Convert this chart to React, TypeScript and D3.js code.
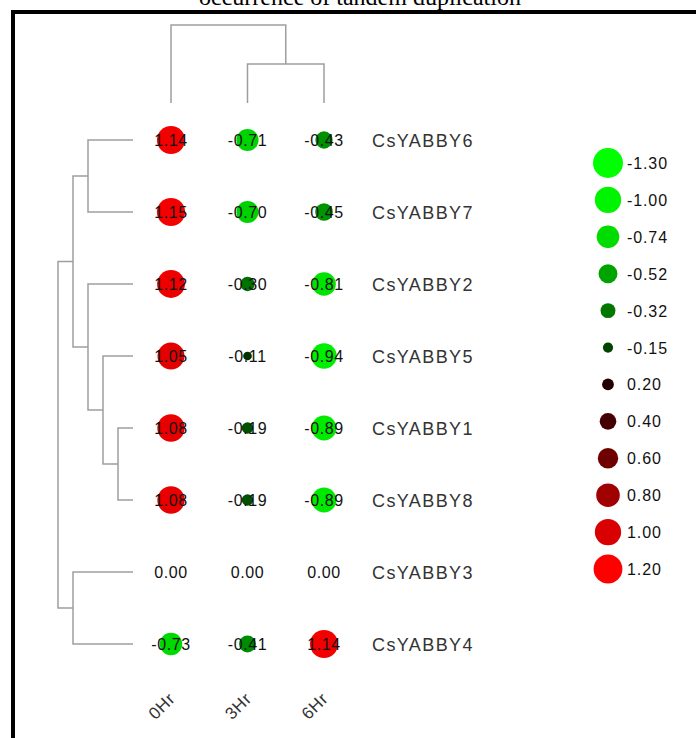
import React, { useRef, useEffect } from 'react';
import { select, scaleLinear, scalePoint, scaleSqrt } from 'd3';

const title = 'occurrence of tandem duplication';

const genes = ['CsYABBY6', 'CsYABBY7', 'CsYABBY2', 'CsYABBY5', 'CsYABBY1', 'CsYABBY8', 'CsYABBY3', 'CsYABBY4'];
const times = ['0Hr', '3Hr', '6Hr'];

const hr0 = [1.14, 1.15, 1.12, 1.05, 1.08, 1.08, 0.0, -0.73];
const hr3 = [-0.71, -0.70, -0.30, -0.11, -0.19, -0.19, 0.0, -0.41];
const hr6 = [-0.43, -0.45, -0.81, -0.94, -0.89, -0.89, 0.0, 1.14];

// linkage: [child a, child b, height]; leaves are 0..n-1, merges are n, n+1, ...
const rowLinkage = [
  [4, 5, 1],
  [3, 8, 2],
  [0, 1, 3],
  [2, 9, 3],
  [10, 11, 4],
  [6, 7, 4],
  [12, 13, 5],
];
const colLinkage = [
  [1, 2, 1],
  [0, 3, 2],
];

const legendValues = [-1.3, -1.0, -0.74, -0.52, -0.32, -0.15, 0.2, 0.4, 0.6, 0.8, 1.0, 1.2];

const W = 696;
const H = 738;
const sans = '"Liberation Sans", Arial, sans-serif';

const App = () => {
  const svgRef = useRef(null);

  useEffect(() => {
    const svg = select(svgRef.current);
    svg.selectAll('*').remove();

    const rowY = scalePoint().domain(genes).range([140, 644]);
    const colX = scalePoint().domain(times).range([171, 324]);
    const rowHeightX = scaleLinear().domain([0, 5]).range([133, 58]);
    const colHeightY = scaleLinear().domain([0, 2]).range([103, 25]);
    const radius = scaleSqrt().domain([0, 1.3]).range([0, 15]);
    const color = scaleLinear()
      .domain([-1.3, -1.0, -0.74, -0.52, -0.32, -0.15, 0, 0.2, 0.4, 0.6, 0.8, 1.0, 1.2])
      .range(['#00ff00', '#00f400', '#00dc00', '#00a400', '#007800', '#004400', '#000000',
        '#220000', '#440000', '#6e0000', '#a00000', '#d80000', '#ff0000'])
      .clamp(true);

    // title (mostly cut off above the frame, as in the source figure)
    svg.append('text')
      .attr('x', 360).attr('y', 5)
      .attr('text-anchor', 'middle')
      .style('font-family', '"Liberation Serif", "Times New Roman", serif')
      .style('font-size', '24px')
      .text(title);

    // frame
    svg.append('rect')
      .attr('x', 13).attr('y', 12)
      .attr('width', W + 20).attr('height', H + 20)
      .attr('fill', 'none')
      .attr('stroke', '#000')
      .attr('stroke-width', 4);

    // row dendrogram
    const rowNodes = genes.map(g => ({ pos: rowY(g), h: 0 }));
    rowLinkage.forEach(([a, b, h]) => {
      const na = rowNodes[a];
      const nb = rowNodes[b];
      const xm = rowHeightX(h);
      svg.append('path')
        .attr('d', `M${rowHeightX(na.h)},${na.pos}H${xm}V${nb.pos}H${rowHeightX(nb.h)}`)
        .attr('fill', 'none')
        .attr('stroke', '#9e9e9e')
        .attr('stroke-width', 1.5);
      rowNodes.push({ pos: (na.pos + nb.pos) / 2, h });
    });

    // column dendrogram
    const colNodes = times.map(t => ({ pos: colX(t), h: 0 }));
    colLinkage.forEach(([a, b, h]) => {
      const na = colNodes[a];
      const nb = colNodes[b];
      const ym = colHeightY(h);
      svg.append('path')
        .attr('d', `M${na.pos},${colHeightY(na.h)}V${ym}H${nb.pos}V${colHeightY(nb.h)}`)
        .attr('fill', 'none')
        .attr('stroke', '#9e9e9e')
        .attr('stroke-width', 1.5);
      colNodes.push({ pos: (na.pos + nb.pos) / 2, h });
    });

    // bubbles
    const columns = [hr0, hr3, hr6];
    const cells = [];
    columns.forEach((vals, ci) => {
      vals.forEach((v, ri) => cells.push({ time: times[ci], gene: genes[ri], v }));
    });

    const cellG = svg.append('g');
    cellG.selectAll('circle')
      .data(cells.filter(d => d.v !== 0))
      .enter()
      .append('circle')
      .attr('cx', d => colX(d.time))
      .attr('cy', d => rowY(d.gene))
      .attr('r', d => radius(Math.abs(d.v)))
      .attr('fill', d => color(d.v));

    cellG.selectAll('text')
      .data(cells)
      .enter()
      .append('text')
      .attr('x', d => colX(d.time))
      .attr('y', d => rowY(d.gene) + 6)
      .attr('text-anchor', 'middle')
      .style('font-family', sans)
      .style('font-size', '16px')
      .style('letter-spacing', '0.6px')
      .attr('fill', '#111')
      .text(d => d.v.toFixed(2));

    // row labels
    svg.append('g').selectAll('text')
      .data(genes)
      .enter()
      .append('text')
      .attr('x', 372)
      .attr('y', d => rowY(d) + 6.5)
      .style('font-family', sans)
      .style('font-size', '18px')
      .style('letter-spacing', '1.4px')
      .attr('fill', '#333')
      .text(d => d);

    // column labels
    svg.append('g').selectAll('text')
      .data(times)
      .enter()
      .append('text')
      .attr('transform', d => `translate(${colX(d) + 5},${700}) rotate(-45)`)
      .attr('text-anchor', 'end')
      .style('font-family', sans)
      .style('font-size', '17px')
      .style('letter-spacing', '0.5px')
      .attr('fill', '#333')
      .text(d => d);

    // legend
    const legendY = scalePoint().domain(legendValues.map(String)).range([163, 569]);
    const legend = svg.append('g');
    legend.selectAll('circle')
      .data(legendValues)
      .enter()
      .append('circle')
      .attr('cx', 608)
      .attr('cy', d => legendY(String(d)))
      .attr('r', d => radius(Math.abs(d)))
      .attr('fill', d => color(d));

    legend.selectAll('text')
      .data(legendValues)
      .enter()
      .append('text')
      .attr('x', 627)
      .attr('y', d => legendY(String(d)) + 6)
      .style('font-family', sans)
      .style('font-size', '16px')
      .style('letter-spacing', '0.9px')
      .attr('fill', '#111')
      .text(d => d.toFixed(2));
  }, []);

  return (
    <svg
      ref={svgRef}
      width={W}
      height={H}
      style={{ position: 'absolute', left: 0, top: 0, background: '#fff' }}
    />
  );
};

export default App;
